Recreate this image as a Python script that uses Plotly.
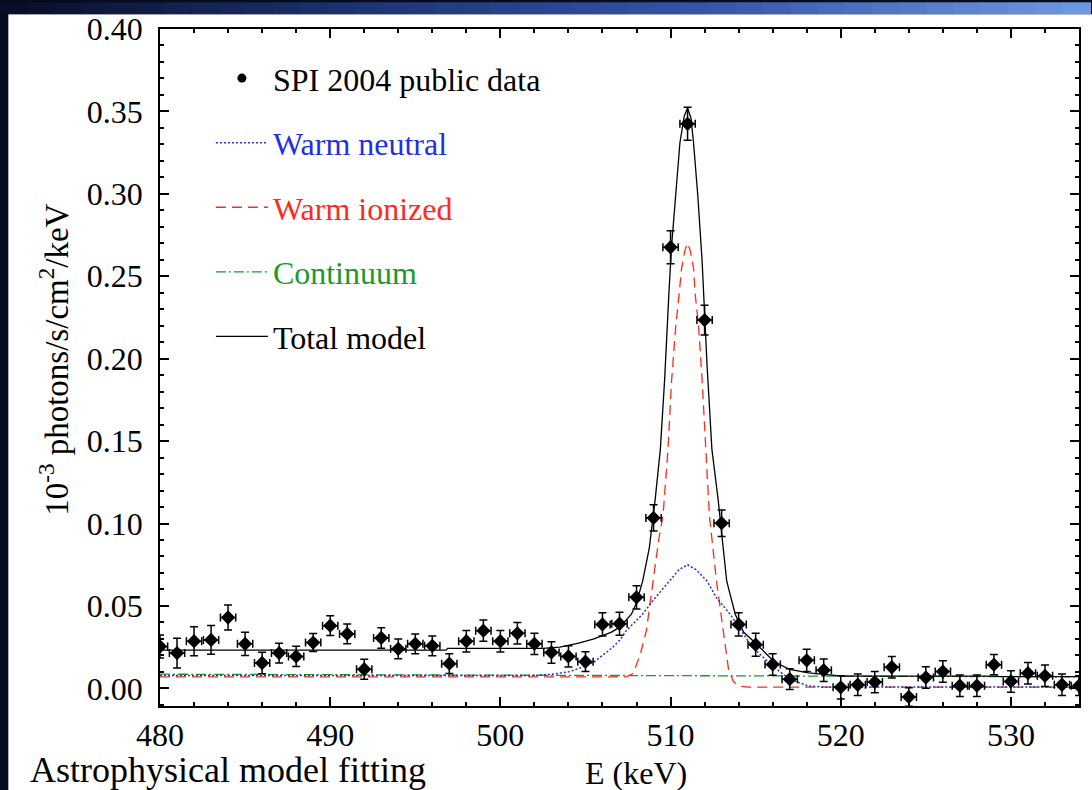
import plotly.graph_objects as go

# ---------------- data ----------------
energy = list(range(480, 535))
flux = [0.0254, 0.0214, 0.0286, 0.0294, 0.0430, 0.0270, 0.0154, 0.0214, 0.0194, 0.0278,
        0.0380, 0.0330, 0.0116, 0.0306, 0.0240, 0.0270, 0.0258, 0.0150, 0.0286, 0.0350,
        0.0286, 0.0334, 0.0270, 0.0218, 0.0194, 0.0162, 0.0388, 0.0392, 0.0552, 0.1034,
        0.2676, 0.3425, 0.2234, 0.1002, 0.0388, 0.0265, 0.0145, 0.0056, 0.0170, 0.0110,
        0.0006, 0.0022, 0.0038, 0.0128, -0.0052, 0.0066, 0.0102, 0.0016, 0.0016, 0.0144,
        0.0042, 0.0092, 0.0076, 0.0022, 0.0016]
flux_err = [0.0070, 0.0090, 0.0088, 0.0087, 0.0076, 0.0070, 0.0065, 0.0060, 0.0062, 0.0055,
            0.0060, 0.0060, 0.0060, 0.0062, 0.0060, 0.0060, 0.0060, 0.0060, 0.0065, 0.0064,
            0.0065, 0.0065, 0.0064, 0.0065, 0.0065, 0.0060, 0.0070, 0.0070, 0.0070, 0.0080,
            0.0100, 0.0100, 0.0090, 0.0080, 0.0070, 0.0070, 0.0065, 0.0063, 0.0068, 0.0068,
            0.0070, 0.0065, 0.0065, 0.0065, 0.0056, 0.0065, 0.0065, 0.0065, 0.0065, 0.0062,
            0.0065, 0.0065, 0.0065, 0.0065, 0.0060]
energy_err = 0.45

total_e = [480, 496.8, 496.9, 502.5, 503.5, 504.6, 505.5, 506.5, 507.0, 507.7, 508.0, 508.36,
           508.75, 509.1, 509.4, 509.65, 509.9, 510.05, 510.3, 510.55, 510.8, 511.0, 511.2,
           511.35, 511.6, 511.85, 512.15, 512.43, 512.79, 513.1, 513.3, 513.8, 514.3, 515.0,
           516.1, 517.0, 518.1, 519.5, 520.0, 529.2, 529.3, 534]
total_f = [0.0232, 0.0232, 0.0242, 0.0242, 0.0250, 0.0274, 0.0300, 0.0340, 0.0370, 0.0450,
           0.0520, 0.0650, 0.0850, 0.1150, 0.1450, 0.1870, 0.2390, 0.2670, 0.2990, 0.3310,
           0.3470, 0.3520, 0.3460, 0.3310, 0.2990, 0.2600, 0.1950, 0.1450, 0.1150, 0.0850,
           0.0650, 0.0450, 0.0340, 0.0274, 0.0160, 0.0115, 0.0094, 0.0080, 0.0075, 0.0074,
           0.0072, 0.0071]

ionized_e = [480, 507.4, 507.8, 508.2, 508.58, 508.97, 509.3, 509.56, 509.85, 510.05, 510.3,
             510.5, 510.65, 510.85, 511.0, 511.15, 511.35, 511.45, 511.65, 511.85, 512.08,
             512.28, 512.7, 513.1, 513.4, 513.7, 514.1, 514.6, 534]
ionized_f = [0.0070, 0.0070, 0.0090, 0.0200, 0.0350, 0.0650, 0.0900, 0.1050, 0.1450, 0.1850,
             0.2190, 0.2390, 0.2550, 0.2660, 0.2700, 0.2660, 0.2550, 0.2390, 0.2190, 0.1880,
             0.1450, 0.1050, 0.0650, 0.0350, 0.0120, 0.0040, 0.0012, 0.0008, 0.0008]

neutral_e = [480, 502.0, 503.0, 504.0, 504.6, 505.5, 506.5, 507.0, 507.4, 508.35, 509.1, 509.9,
             510.5, 511.0, 511.5, 512.15, 512.7, 513.5, 514.8, 516.0, 517.0, 518.1, 519.0, 534]
neutral_f = [0.0078, 0.0078, 0.0085, 0.0100, 0.0120, 0.0160, 0.0240, 0.0290, 0.0350, 0.0450,
             0.0550, 0.0650, 0.0720, 0.0750, 0.0720, 0.0650, 0.0550, 0.0450, 0.0250, 0.0135,
             0.0056, 0.0014, 0.0008, 0.0008]

continuum_e = [480, 534]
continuum_f = [0.0086, 0.0070]

x_ticks = [480, 490, 500, 510, 520, 530]
y_ticks = [0.00, 0.05, 0.10, 0.15, 0.20, 0.25, 0.30, 0.35, 0.40]

# ---------------- styling ----------------
SERIF = "Liberation Serif, Times New Roman, serif"
BLUE = "#1f2fe6"
RED = "#ff2a1a"
GREEN = "#1a9a2a"
W, H = 1092, 790
ML, MR, MT, MB = 160, 11, 22, 84
PW, PH = W - ML - MR, H - MT - MB


def px(xp):
    return (xp - ML) / PW


def py(yp):
    return (H - MB - yp) / PH


def colored(txt, col):
    return "<span style='color:%s'>%s</span>" % (col, txt)


fig = go.Figure()

fig.add_trace(go.Scatter(x=continuum_e, y=continuum_f, mode="lines",
                         name=colored("Continuum", GREEN),
                         line=dict(color=GREEN, width=1.3, dash="10px,3px,2px,3px"),
                         legendgroup="c", legendrank=4))
fig.add_trace(go.Scatter(x=ionized_e, y=ionized_f, mode="lines",
                         name=colored("Warm ionized", RED),
                         line=dict(color=RED, width=1.3, dash="10px,6px"),
                         legendgroup="i", legendrank=3))
fig.add_trace(go.Scatter(x=neutral_e, y=neutral_f, mode="lines",
                         name=colored("Warm neutral", BLUE),
                         line=dict(color=BLUE, width=1.5, dash="2px,2px"),
                         legendgroup="n", legendrank=2))
fig.add_trace(go.Scatter(x=total_e, y=total_f, mode="lines", name="Total model",
                         line=dict(color="black", width=1.3),
                         legendgroup="t", legendrank=5))
fig.add_trace(go.Scatter(x=energy, y=flux, mode="markers", showlegend=False,
                         marker=dict(symbol="diamond", size=11, color="black"),
                         error_y=dict(type="data", array=flux_err, color="black",
                                      thickness=1.5, width=4),
                         error_x=dict(type="constant", value=energy_err, color="black",
                                      thickness=1.5, width=4)))
# legend-only entry for the data points
fig.add_trace(go.Scatter(x=[None], y=[None], mode="markers", name="SPI 2004 public data",
                         marker=dict(symbol="circle", size=9, color="black"),
                         legendgroup="d", legendrank=1))

# ---- slide background ----
shapes = []
shapes.append(dict(type="rect", xref="paper", yref="paper", layer="below",
                   x0=px(8), x1=px(W + 20), y0=py(H + 20), y1=py(7),
                   fillcolor="white", line=dict(width=0)))
# top gradient band
stops = [(0.0, (8, 14, 40)), (0.35, (30, 55, 120)), (0.65, (55, 85, 170)), (1.0, (110, 155, 225))]
nseg = 40
for k in range(nseg):
    t = (k + 0.5) / nseg
    for j in range(len(stops) - 1):
        if stops[j][0] <= t <= stops[j + 1][0]:
            a, ca = stops[j]
            b, cb = stops[j + 1]
            f = (t - a) / (b - a)
            col = tuple(int(ca[i] + f * (cb[i] - ca[i])) for i in range(3))
            break
    shapes.append(dict(type="rect", xref="paper", yref="paper", layer="below",
                       x0=px(W * k / nseg), x1=px(W * (k + 1) / nseg + 1),
                       y0=py(7), y1=py(-5), fillcolor="rgb(%d,%d,%d)" % col,
                       line=dict(width=0)))

axis_common = dict(showline=True, linecolor="black", linewidth=1.5, mirror="allticks",
                   ticks="inside", ticklen=9, tickwidth=1.5, tickcolor="black",
                   showgrid=False, zeroline=False,
                   tickfont=dict(family=SERIF, size=32, color="black"))

fig.update_layout(
    width=W, height=H,
    margin=dict(l=ML, r=MR, t=MT, b=MB),
    paper_bgcolor="rgb(6,11,30)",
    plot_bgcolor="rgba(0,0,0,0)",
    shapes=shapes,
    showlegend=True,
    legend=dict(x=px(211), y=py(44), xanchor="left", yanchor="top",
                bgcolor="rgba(0,0,0,0)", borderwidth=0,
                font=dict(family=SERIF, size=32, color="black"),
                tracegroupgap=20, itemwidth=52, traceorder="grouped"),
    xaxis=dict(range=[480, 534], tickvals=x_ticks, ticktext=[str(v) for v in x_ticks],
               minor=dict(dtick=2, ticks="inside", ticklen=4, tickwidth=1.5, tickcolor="black"),
               ticklabelstandoff=0, **axis_common),
    yaxis=dict(range=[-0.0107, 0.40], tickvals=y_ticks, tickformat=".2f",
               minor=dict(dtick=0.01, tick0=0, ticks="inside", ticklen=4, tickwidth=1.5,
                          tickcolor="black"),
               ticklabelstandoff=9, **axis_common),
    annotations=[
        dict(text="10<sup>-3</sup> photons/s/cm<sup>2</sup>/keV", xref="paper", yref="paper",
             x=px(53), y=py(356), textangle=-90, showarrow=False, xanchor="center",
             yanchor="middle", font=dict(family=SERIF, size=33, color="black")),
        dict(text="E (keV)", xref="paper", yref="paper", x=px(637), y=py(774),
             showarrow=False, xanchor="center", yanchor="middle",
             font=dict(family=SERIF, size=32, color="black")),
        dict(text="Astrophysical model fitting", xref="paper", yref="paper", x=px(28),
             y=py(771), showarrow=False, xanchor="left", yanchor="middle",
             font=dict(family=SERIF, size=36, color="black")),
    ],
)

fig.write_html("out.html")
